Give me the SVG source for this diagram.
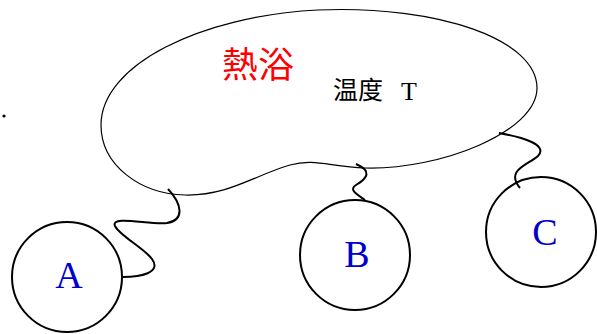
<svg xmlns="http://www.w3.org/2000/svg" width="597" height="334" viewBox="0 0 597 334">
<style>
.node{fill:none;stroke:#000;stroke-width:2}
.blob{fill:none;stroke:#000;stroke-width:1.2}
.wire{fill:none;stroke:#000;stroke-width:2}
.lbl{font-family:"Liberation Serif",serif;font-size:38px;fill:#0000cc;text-anchor:middle}
</style>
<rect width="597" height="334" fill="#fff"/>
<circle cx="4" cy="116" r="1.6" fill="#000"/>
<g id="bath">
<path class="blob" d="M101,125 C101,65 200,16 318,10 C440,5 537,40 537,88 C537,132 440,170 365,168 C330,167 315,158 290,165 C255,175 228,196 185,195 C140,194 101,165 101,125 Z"/>
<text x="222" y="78" font-family="'Noto Sans CJK SC',sans-serif" font-size="36" fill="#ff0000">熱浴</text>
<text x="333" y="99" font-family="'Noto Sans CJK SC',sans-serif" font-size="25" fill="#000">温度</text>
<text x="401" y="100" font-family="'Liberation Serif',serif" font-size="26" fill="#000">T</text>
</g>
<g id="connectors">
<path class="wire" d="M123,277 C140,277 162,273 152,259 C144,248 120,236 115,226 C110,215 150,225 167,223 C185,220 182,204 168,189"/>
<path class="wire" d="M365,200 C358,195 348,190 356,185 C368,178 372,171 356,164"/>
<path class="wire" d="M499,133 C520,137 549,144 538,156 C528,165 505,170 520,188"/>
</g>
<g id="A"><circle class="node" cx="67" cy="277" r="55"/><text class="lbl" x="69" y="288">A</text></g>
<g id="B"><circle class="node" cx="355" cy="255" r="55"/><text class="lbl" x="357" y="267">B</text></g>
<g id="C"><circle class="node" cx="541" cy="232" r="55"/><text class="lbl" x="545" y="245">C</text></g>
</svg>
